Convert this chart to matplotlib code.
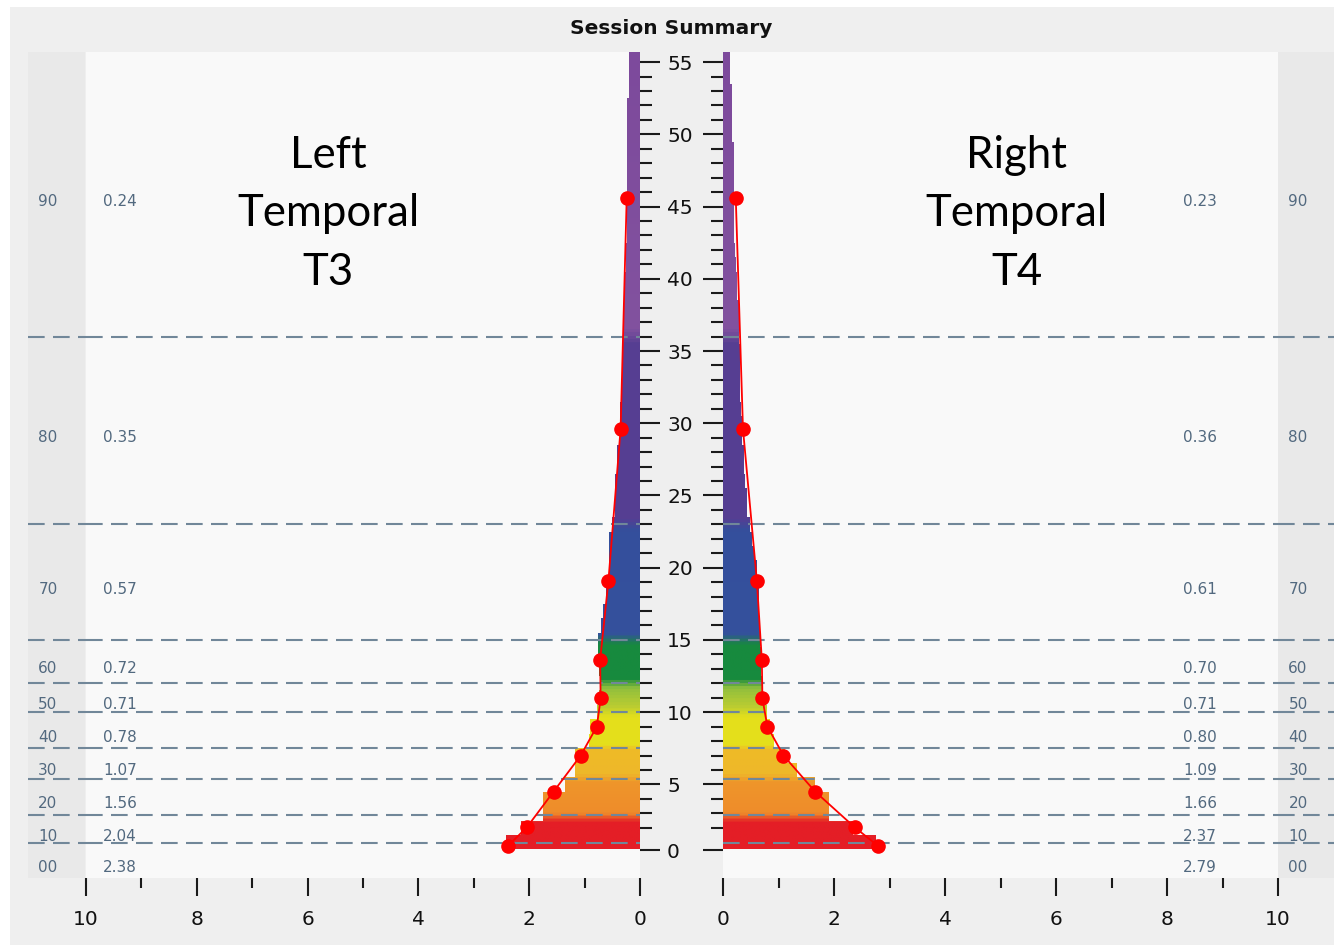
import numpy as np
import matplotlib
matplotlib.use("Agg")
import matplotlib.pyplot as plt
from matplotlib.colors import LinearSegmentedColormap
from matplotlib.patches import Rectangle
from matplotlib.path import Path
from matplotlib import transforms, font_manager

# ---------------- data ----------------
freq_bins = list(range(1, 57))  # 1 Hz bins centred on whole Hz

left_amp = [2.42, 2.15, 1.75, 1.75, 1.35, 1.17, 1.17, 0.92, 0.90, 0.78,
            0.74, 0.73, 0.74, 0.75, 0.76, 0.71, 0.66, 0.61, 0.61, 0.56,
            0.56, 0.56, 0.51, 0.45, 0.45, 0.45, 0.42, 0.42, 0.37, 0.37,
            0.37, 0.33, 0.33, 0.30, 0.30, 0.30, 0.29, 0.29, 0.28, 0.27,
            0.26, 0.25, 0.24, 0.24, 0.24, 0.24, 0.24, 0.24, 0.24, 0.24,
            0.24, 0.24, 0.20, 0.20, 0.20, 0.20]

right_amp = [2.75, 2.35, 1.91, 1.91, 1.66, 1.33, 1.12, 0.91, 0.85, 0.80,
             0.72, 0.70, 0.69, 0.68, 0.67, 0.66, 0.64, 0.64, 0.64, 0.61,
             0.56, 0.52, 0.49, 0.43, 0.43, 0.40, 0.38, 0.37, 0.34, 0.34,
             0.32, 0.30, 0.30, 0.30, 0.30, 0.29, 0.28, 0.28, 0.26, 0.25,
             0.24, 0.22, 0.20, 0.20, 0.20, 0.20, 0.20, 0.20, 0.20, 0.16,
             0.16, 0.16, 0.16, 0.13, 0.13, 0.13]

band_names = ["00", "10", "20", "30", "40", "50", "60", "70", "80", "90"]
left_band_mean = [2.38, 2.04, 1.56, 1.07, 0.78, 0.71, 0.72, 0.57, 0.35, 0.24]
right_band_mean = [2.79, 2.37, 1.66, 1.09, 0.80, 0.71, 0.70, 0.61, 0.36, 0.23]
band_mean_freq = [0.75, 2.04, 4.5, 7.0, 9.0, 10.95, 13.6, 19.1, 29.6, 45.6]
band_edges = [0.95, 2.9, 5.4, 7.5, 10.0, 12.0, 15.0, 23.0, 36.0]

freq_tick_labels = ["0", "5", "10", "15", "20", "25", "30", "35", "40", "45", "50", "55"]
amp_ticks = [0, 2, 4, 6, 8, 10]

left_title = "Left\nTemporal\nT3"
right_title = "Right\nTemporal\nT4"

# ---------------- styling ----------------
W, H = 1334, 949
YMIN, YMAX = -1.48, 55.7

names = {f.name for f in font_manager.fontManager.ttflist}
narrow = "Liberation Sans Narrow" if "Liberation Sans Narrow" in names else "DejaVu Sans"
big_font = "Lato" if "Lato" in names else "DejaVu Sans"

band_cmap_stops = [
    (0.0, "#e41e26"), (2.3, "#e41e26"), (2.9, "#ee8c2b"), (5.1, "#ef962a"),
    (5.6, "#eeb82a"), (7.3, "#eebb27"), (7.7, "#e5e01b"), (9.6, "#e4df1c"),
    (10.3, "#bccd31"), (11.6, "#90bf3d"), (12.3, "#178a3e"), (14.6, "#178a3e"),
    (15.4, "#34519d"), (22.6, "#354f9c"), (23.4, "#553e93"), (35.6, "#573f92"),
    (36.6, "#82529f"), (56.0, "#7d4a9c"),
]
cmap = LinearSegmentedColormap.from_list(
    "bands", [(f / 56.0, c) for f, c in band_cmap_stops])


def fx(px):
    return px / W


def fy(py):
    return 1 - py / H


fig = plt.figure(figsize=(W / 100, H / 100), dpi=100)
fig.patch.set_facecolor("white")

# panel and side strips
fig.add_artist(Rectangle((fx(10), fy(945)), fx(W - 10), (945 - 7) / H,
                         transform=fig.transFigure, fc="#efefef", ec="none", zorder=0))
fig.add_artist(Rectangle((fx(28), fy(878)), fx(85 - 28), (878 - 52) / H,
                         transform=fig.transFigure, fc="#e9e9e9", ec="none", zorder=0))
fig.add_artist(Rectangle((fx(1278), fy(878)), fx(W - 1278), (878 - 52) / H,
                         transform=fig.transFigure, fc="#e9e9e9", ec="none", zorder=0))

fig.text(fx(671), fy(28), "Session Summary", ha="center", va="center",
         fontsize=14.5, fontweight="bold", family=narrow, color="#111111")

ax_bottom = fy(878)
ax_height = (878 - 52) / H
axL = fig.add_axes([fx(86), ax_bottom, fx(640 - 86), ax_height])
axR = fig.add_axes([fx(723), ax_bottom, fx(1278 - 723), ax_height])

ytick_pos = [0.45] + [5 * k for k in range(1, len(freq_tick_labels))]
minor_pos = [f for f in range(2, 55) if f % 5 != 0]

for ax, amps, means, side in ((axL, left_amp, left_band_mean, "left"),
                              (axR, right_amp, right_band_mean, "right")):
    ax.set_facecolor("#f9f9f9")
    for s in ax.spines.values():
        s.set_visible(False)

    colors = [cmap(f / 56.0) for f in freq_bins]
    bars = ax.barh(freq_bins, amps, height=1.0, color=colors, linewidth=0, zorder=2)

    # smooth vertical colour gradient clipped to the bar outline
    grad = np.linspace(0, 1, 800).reshape(-1, 1)
    im = ax.imshow(grad, cmap=cmap, aspect="auto", origin="lower",
                   extent=(0, 3.2, 0, 56), interpolation="bilinear", zorder=3)
    clip = Path.make_compound_path(
        *[b.get_path().transformed(b.get_patch_transform()) for b in bars])
    im.set_clip_path(clip, ax.transData)
    ax.set_ylim(YMIN, YMAX)
    if side == "left":
        ax.set_xlim(10, 0)
    else:
        ax.set_xlim(0, 10)

    # band boundaries
    for e in band_edges:
        ax.axhline(e, color="#718799", lw=1.5, dashes=(8, 4), zorder=4)

    # band means joined by a line
    ax.plot(means, band_mean_freq, color="#ff0000", lw=1.3, zorder=5, clip_on=False)
    ax.plot(means, band_mean_freq, "o", color="#ff0000", ms=9.5, zorder=6, clip_on=False)

    # ticks
    ax.set_xticks(amp_ticks)
    ax.set_xticks(list(range(1, 10, 2)), minor=True)
    ax.set_xticklabels([str(t) for t in amp_ticks])
    ax.set_yticks(ytick_pos)
    ax.set_yticks(minor_pos, minor=True)
    ax.tick_params(axis="x", which="major", direction="out", length=13, width=1.5,
                   color="#1a1a1a", pad=10, labelsize=14.5, labelcolor="#111111")
    ax.tick_params(axis="x", which="minor", direction="out", length=7, width=1.5,
                   color="#1a1a1a")
    for lab in ax.get_xticklabels():
        lab.set_family(narrow)
    if side == "left":
        ax.yaxis.tick_right()
        ax.set_yticklabels(freq_tick_labels)
        ax.tick_params(axis="y", which="major", direction="out", length=14.5, width=1.5,
                       color="#1a1a1a", pad=5, labelsize=14.5, labelcolor="#111111")
        for lab in ax.get_yticklabels():
            lab.set_family(narrow)
    else:
        ax.yaxis.tick_left()
        ax.set_yticklabels([])
        ax.tick_params(axis="y", which="major", direction="out", length=14.5, width=1.5,
                       color="#1a1a1a")
    ax.tick_params(axis="y", which="minor", direction="out", length=8.5, width=1.5,
                   color="#1a1a1a")

# dashed boundaries continue across the side strips
blendL = transforms.blended_transform_factory(fig.transFigure, axL.transData)
blendR = transforms.blended_transform_factory(fig.transFigure, axR.transData)
for e in band_edges:
    axL.plot([fx(28), fx(86)], [e, e], transform=blendL, color="#718799", lw=1.5,
             dashes=(8, 4), clip_on=False, zorder=4)
    axR.plot([fx(1278), fx(W)], [e, e], transform=blendR, color="#718799", lw=1.5,
             dashes=(8, 4), clip_on=False, zorder=4)

# band names and band means in the margins
label_edges = [YMIN] + band_edges + [YMAX]
label_color = "#52697f"
lab_kw = dict(ha="center", va="center", fontsize=11, color=label_color)
for i, name in enumerate(band_names):
    yc = 0.5 * (label_edges[i] + label_edges[i + 1]) - 0.5
    axL.text(fx(48), yc, name, transform=blendL, **lab_kw)
    axL.text(fx(120), yc, f"{left_band_mean[i]:.2f}", transform=blendL, **lab_kw)
    axR.text(fx(1200), yc, f"{right_band_mean[i]:.2f}", transform=blendR, **lab_kw)
    axR.text(fx(1298), yc, name, transform=blendR, **lab_kw)

fig.text(fx(328), fy(214), left_title, ha="center", va="center", fontsize=31.5,
         family=big_font, linespacing=1.52, color="#000000")
fig.text(fx(1017), fy(214), right_title, ha="center", va="center", fontsize=31.5,
         family=big_font, linespacing=1.52, color="#000000")

fig.savefig("out.png", dpi=100, facecolor=fig.get_facecolor())
